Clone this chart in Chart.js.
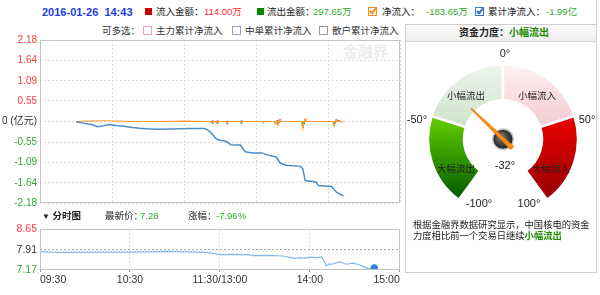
<!DOCTYPE html>
<html>
<head>
<meta charset="utf-8">
<script src="https://cdn.jsdelivr.net/npm/chart.js@4.4.1/dist/chart.umd.min.js"></script>
<style>
  body { margin: 0; width: 600px; height: 295px; background: #fff; position: relative; overflow: hidden;
         font-family: "Liberation Sans", "Noto Sans CJK SC", sans-serif; font-size: 9.5px; color: #222; }
  .t { position: absolute; white-space: nowrap; line-height: 12px; }
  .c { position: absolute; white-space: nowrap; line-height: 12px; transform: translate(-50%, -50%); }
  .deg { font-size: 11px; }
  .red { color: #ff2a2a; }
  .green { color: #2ea82e; }
  .sq { position: absolute; width: 7px; height: 7px; }
  .cb { position: absolute; width: 7px; height: 7px; border: 1px solid #999; background: #fff; }
  .cb i { position: absolute; left: 2px; top: -1px; width: 2px; height: 5px; border-right: 2px solid; border-bottom: 2px solid; transform: rotate(40deg); }
  canvas { position: absolute; }
  #panel { position: absolute; left: 405px; top: 24px; width: 190px; height: 247px; border: 1px solid #cfcfcf; }
  #panelHead { position: absolute; left: 0; top: 0; width: 190px; height: 16px; border-bottom: 1px solid #d4d4d4;
               background: linear-gradient(#fbfbfb, #ededed); }
</style>
</head>
<body>
<!-- header -->
<div class="t" style="left:42px;top:6px;font-weight:bold;font-size:11px;color:#1f3fdc;">2016-01-26&nbsp;&nbsp;14:43</div>
<div class="sq" style="left:145px;top:8px;background:#cc0000;"></div>
<div class="t" style="left:156px;top:6px;">流入金额：</div>
<div class="t red" style="left:204px;top:6px;">114.00万</div>
<div class="sq" style="left:257px;top:8px;background:#008a00;"></div>
<div class="t" style="left:267px;top:6px;">流出金额：</div>
<div class="t green" style="left:313px;top:6px;">297.65万</div>
<div class="cb" style="left:368px;top:7px;border-color:#ff8a1a;"><i style="border-color:#ff8a1a;"></i></div>
<div class="t" style="left:382px;top:6px;">净流入：</div>
<div class="t green" style="left:426px;top:6px;">-183.65万</div>
<div class="cb" style="left:475px;top:7px;border-color:#3a78c8;"><i style="border-color:#2f6cc0;"></i></div>
<div class="t" style="left:488px;top:6px;">累计净流入：</div>
<div class="t green" style="left:546px;top:6px;">-1.99亿</div>
<div style="position:absolute;left:596px;top:0;width:1px;height:24px;background:#cfcfcf;"></div>

<div class="t" style="left:102px;top:25px;color:#333;">可多选：</div>
<div class="cb" style="left:143px;top:26px;border-color:#f0a0bc;"></div>
<div class="t" style="left:156px;top:25px;color:#333;">主力累计净流入</div>
<div class="cb" style="left:232px;top:26px;border-color:#a594c8;"></div>
<div class="t" style="left:245px;top:25px;color:#333;">中单累计净流入</div>
<div class="cb" style="left:319px;top:26px;border-color:#9a9a9a;"></div>
<div class="t" style="left:332px;top:25px;color:#333;">散户累计净流入</div>

<div class="t" style="left:343px;top:42px;font-size:15px;line-height:18px;font-weight:bold;color:#ececec;font-family:'Noto Sans CJK SC';">金融界</div>

<canvas id="flow" width="405" height="185" style="left:0;top:30px;"></canvas>

<div class="t" style="left:42px;top:210px;font-weight:bold;"><span style="font-size:8px;">▼</span> 分时图</div>
<div class="t" style="left:105px;top:210px;">最新价：</div>
<div class="t green" style="left:140px;top:210px;">7.28</div>
<div class="t" style="left:188px;top:210px;">涨幅：</div>
<div class="t green" style="left:216px;top:210px;">-7.96%</div>

<canvas id="price" width="405" height="75" style="left:0;top:220px;"></canvas>

<!-- gauge panel -->
<div id="panel"><div id="panelHead"></div></div>
<div class="t" style="left:459px;top:27px;font-weight:bold;font-size:10px;">资金力度：<span style="color:#238a00;">小幅流出</span></div>
<canvas id="gauge" width="160" height="160" style="left:423px;top:52px;"></canvas>
<div class="c deg" style="left:505px;top:53px;">0°</div>
<div class="c deg" style="left:417px;top:119px;">-50°</div>
<div class="c deg" style="left:587px;top:119px;">50°</div>
<div class="c deg" style="left:505px;top:165px;">-32°</div>
<div class="c deg" style="left:479px;top:203px;">-100°</div>
<div class="c deg" style="left:529px;top:203px;">100°</div>
<div class="c" style="left:466px;top:96px;">小幅流出</div>
<div class="c" style="left:537px;top:96px;">小幅流入</div>
<div class="c" style="left:456px;top:169px;">大幅流出</div>
<div class="c" style="left:551px;top:169px;">大幅流入</div>
<div class="t" style="left:413px;top:220px;line-height:11px;font-size:9.3px;">根据金融界数据研究显示，中国核电的资金<br>力度相比前一个交易日继续<b style="color:#238a00;">小幅流出</b></div>

<script>
// x axis: minutes since 09:30 (lunch break removed)
const minuteTicks = [0, 60, 120, 180, 240];
const timeLabels = ["09:30", "10:30", "11:30/13:00", "14:00", "15:00"];

// upper chart, 亿元
const flowTicks = [2.18, 1.64, 1.09, 0.55, 0, -0.55, -1.09, -1.64, -2.18];
const cumMinutes = [0, 7, 13, 18, 21, 27, 33, 40, 47, 53, 62, 67, 80, 93, 107, 110, 113, 117, 120, 125,
  129, 137, 141, 147, 155, 160, 167, 170, 175, 187, 189, 191, 200, 202, 213, 217, 221, 223];
const cumValues = [-0.01, -0.05, -0.08, -0.14, -0.13, -0.08, -0.11, -0.13, -0.16, -0.18, -0.20, -0.21, -0.20, -0.19, -0.19, -0.23, -0.32, -0.47, -0.50, -0.53,
  -0.62, -0.63, -0.81, -0.84, -0.84, -0.90, -0.95, -1.11, -1.17, -1.20, -1.26, -1.58, -1.62, -1.71, -1.74, -1.89, -1.96, -1.99];
const netMinutes = [0, 10, 20, 27, 35, 50, 70, 90, 110, 113, 114, 115, 117, 118, 119, 125, 126, 127, 137, 138, 139,
  155, 156, 157, 165, 166, 167, 168, 169, 170, 171, 188, 189, 190, 191, 192, 214, 215, 216, 217, 218, 223];
const netValues = [0.00, 0.01, 0.02, 0.02, 0.01, 0.00, 0.00, 0.01, 0.00, 0.00, -0.04, 0.00, 0.00, -0.05, 0.00, 0.00, -0.06, 0.00, 0.00, -0.05, 0.00,
  0.00, -0.03, 0.00, 0.00, -0.05, 0.01, -0.08, 0.00, 0.04, 0.00, 0.00, -0.18, 0.00, 0.06, 0.00, 0.00, -0.12, 0.02, 0.05, 0.01, -0.02];
const inMinutes = [114, 118, 126, 138, 168, 170, 191, 217, 219];
const inValues = [0.02, 0.02, 0.01, 0.02, 0.03, 0.05, 0.06, 0.05, 0.03];
const outMinutes = [113, 114, 117, 118, 126, 138, 156, 166, 168, 169, 189, 190, 215, 216];
const outValues = [-0.03, -0.05, -0.02, -0.06, -0.07, -0.06, -0.03, -0.05, -0.09, -0.04, -0.16, -0.07, -0.11, -0.05];

// lower chart, price
const priceTicks = [8.65, 7.91, 7.17];
const prevClose = 7.91;
const priceMinutes = [0, 7, 18, 40, 62, 84, 98, 111, 120, 129, 138, 143, 151, 162, 170,
  173, 177, 180, 184, 188, 191, 193, 195, 200, 204, 209, 213, 219, 222, 223];
const priceValues = [7.84, 7.82, 7.81, 7.82, 7.82, 7.85, 7.83, 7.81, 7.73, 7.74, 7.73, 7.69, 7.70, 7.68, 7.59,
  7.62, 7.60, 7.64, 7.62, 7.64, 7.32, 7.39, 7.38, 7.47, 7.38, 7.42, 7.36, 7.22, 7.22, 7.25];

// gauge
const gaugeLabels = ["大幅流出", "小幅流出", "小幅流入", "大幅流入"];
const gaugeBands = [50, 50, 50, 50];
const gaugeMin = -100;
const gaugeMax = 100;
const gaugeValue = -32;

const pts = (xs, ys) => xs.map((x, i) => ({ x: x, y: ys[i] }));
const FONT = "'Liberation Sans', 'Noto Sans CJK SC', sans-serif";
Chart.defaults.font.family = FONT;
Chart.defaults.animation = false;

const frame = {
  id: "frame",
  afterDraw(chart) {
    const { ctx, chartArea: a } = chart;
    ctx.save();
    ctx.strokeStyle = "#c4c4c4";
    ctx.lineWidth = 1;
    ctx.strokeRect(Math.round(a.left) + 0.5, Math.round(a.top) + 0.5,
      Math.round(a.right - a.left) - 1, Math.round(a.bottom - a.top) - 1);
    ctx.restore();
  },
};

const noPlugins = { legend: { display: false }, tooltip: { enabled: false } };

new Chart(document.getElementById("flow"), {
  type: "line",
  data: {
    datasets: [
      { data: pts(cumMinutes, cumValues), borderColor: "#4a8ec9", borderWidth: 1.5, pointRadius: 0, order: 0 },
      { data: pts(netMinutes, netValues), borderColor: "#ff9a3c", borderWidth: 1.2, pointRadius: 0, order: 1 },
      { type: "bar", data: pts(inMinutes, inValues), backgroundColor: "#e83a3a", barThickness: 1.3, grouped: false, order: 2 },
      { type: "bar", data: pts(outMinutes, outValues), backgroundColor: "#44aa22", barThickness: 1.3, grouped: false, order: 2 },
    ],
  },
  options: {
    responsive: false,
    devicePixelRatio: 1,
    events: [],
    layout: { padding: { left: 0, right: 5, top: 10, bottom: 12 } },
    plugins: noPlugins,
    scales: {
      x: {
        type: "linear", min: 0, max: 240,
        afterBuildTicks: (s) => { s.ticks = minuteTicks.map((v) => ({ value: v })); },
        afterFit: (s) => { s.height = 0; },
        ticks: { display: false },
        grid: { color: "#dcdcdc", drawTicks: false },
        border: { display: false, dash: [2, 2] },
      },
      y: {
        min: -2.18, max: 2.18,
        afterBuildTicks: (s) => { s.ticks = flowTicks.map((v) => ({ value: v })); },
        afterFit: (s) => { s.width = 40; },
        ticks: {
          padding: 3,
          font: { size: 10 },
          color: (c) => (c.tick.value > 0 ? "#ff3b3b" : c.tick.value < 0 ? "#2ea82e" : "#333"),
          callback: (v) => (v === 0 ? "0 (亿元)" : v.toFixed(2)),
        },
        grid: { color: "#dcdcdc", drawTicks: false },
        border: { display: false, dash: [2, 2] },
      },
    },
  },
  plugins: [frame],
});

new Chart(document.getElementById("price"), {
  type: "line",
  data: {
    datasets: [{
      data: pts(priceMinutes, priceValues),
      borderColor: "#7fb8ee",
      borderWidth: 1.2,
      pointRadius: (c) => (c.dataIndex === priceValues.length - 1 ? 3 : 0),
      pointBackgroundColor: "#2f80e8",
      pointBorderColor: "#2f80e8",
    }],
  },
  options: {
    responsive: false,
    devicePixelRatio: 1,
    events: [],
    layout: { padding: { left: 0, right: 5, top: 7, bottom: 5 } },
    plugins: noPlugins,
    scales: {
      x: {
        type: "linear", min: 0, max: 240,
        afterBuildTicks: (s) => { s.ticks = minuteTicks.map((v) => ({ value: v })); },
        afterFit: (s) => { s.height = 20; },
        ticks: {
          align: "inner", padding: 2, color: "#333", font: { size: 10.5 },
          callback: (v) => timeLabels[minuteTicks.indexOf(v)],
        },
        grid: { color: "#dcdcdc", drawTicks: true, tickLength: 2, tickColor: "#999" },
        border: { display: false, dash: [2, 2] },
      },
      y: {
        min: 7.17, max: 8.65,
        afterBuildTicks: (s) => { s.ticks = priceTicks.map((v) => ({ value: v })); },
        afterFit: (s) => { s.width = 40; },
        ticks: {
          padding: 3,
          font: { size: 10.5 },
          color: (c) => (c.tick.value > prevClose ? "#ff3b3b" : c.tick.value < prevClose ? "#2ea82e" : "#333"),
          callback: (v) => v.toFixed(2),
        },
        grid: { color: (c) => (c.tick && c.tick.value === prevClose ? "#a8a8a8" : "rgba(0,0,0,0)"), drawTicks: false },
        border: { display: false, dash: [2, 2] },
      },
    },
  },
  plugins: [frame],
});

const bandStops = [
  [[0, "#7ad600"], [0.45, "#5cc400"], [1, "#005800"]],
  [[0, "#eef6ee"], [0.55, "#c6dfc3"], [1, "#c6dfc3"]],
  [[0, "#fff1f3"], [0.55, "#f2c3cb"], [1, "#f2c3cb"]],
  [[0, "#f00000"], [0.45, "#e20000"], [1, "#960000"]],
];
const bandFlat = ["#5cc400", "#d6e9d4", "#f8d8dd", "#dd0000"];

const needle = {
  id: "needle",
  afterDatasetsDraw(chart) {
    const arc = chart.getDatasetMeta(0).data[0];
    const { ctx } = chart;
    const cx = arc.x, cy = arc.y;
    const o = chart.options;
    const ang = ((o.rotation - 90 + ((gaugeValue - gaugeMin) / (gaugeMax - gaugeMin)) * o.circumference) * Math.PI) / 180;
    ctx.save();
    // pivot
    ctx.beginPath();
    ctx.arc(cx, cy, 11, 0, Math.PI * 2);
    ctx.fillStyle = "#c8c8c8";
    ctx.fill();
    const g = ctx.createRadialGradient(cx - 3, cy - 3, 1, cx, cy, 10);
    g.addColorStop(0, "#777");
    g.addColorStop(1, "#222");
    ctx.beginPath();
    ctx.arc(cx, cy, 9.5, 0, Math.PI * 2);
    ctx.fillStyle = g;
    ctx.fill();
    // needle
    ctx.translate(cx, cy);
    ctx.rotate(ang);
    ctx.beginPath();
    ctx.moveTo(-13, -2.2);
    ctx.lineTo(44, -0.6);
    ctx.lineTo(44, 0.6);
    ctx.lineTo(-13, 2.2);
    ctx.closePath();
    ctx.fillStyle = "#ff8a10";
    ctx.fill();
    ctx.strokeStyle = "#e06c00";
    ctx.lineWidth = 0.6;
    ctx.stroke();
    ctx.restore();
  },
};

new Chart(document.getElementById("gauge"), {
  type: "doughnut",
  data: {
    labels: gaugeLabels,
    datasets: [{
      data: gaugeBands,
      backgroundColor: (c) => {
        const { ctx, chartArea } = c.chart;
        if (!chartArea) return bandFlat[c.dataIndex];
        const gr = ctx.createLinearGradient(0, chartArea.top + 12, 0, chartArea.top + 148);
        bandStops[c.dataIndex].forEach(([p, col]) => gr.addColorStop(p, col));
        return gr;
      },
      borderColor: "#fff",
      borderWidth: 2.5,
    }],
  },
  options: {
    responsive: false,
    devicePixelRatio: 1,
    events: [],
    radius: 75,
    cutout: "52%",
    rotation: -144,
    circumference: 288,
    plugins: noPlugins,
  },
  plugins: [needle],
});
</script>
</body>
</html>
